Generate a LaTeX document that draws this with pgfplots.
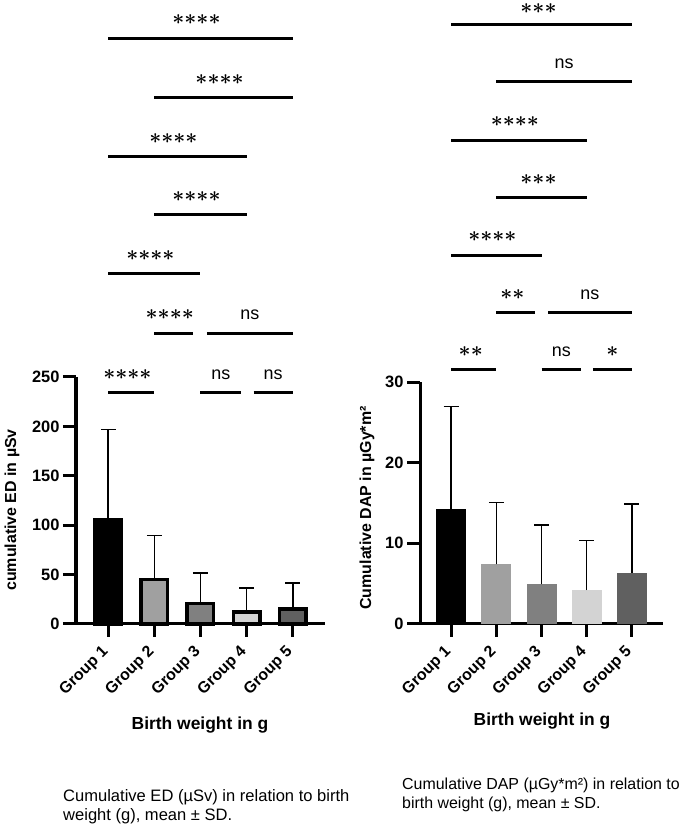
\RequirePackage{fix-cm}
\documentclass[border=0pt]{standalone}
\usepackage{fontspec}
\setmainfont{Liberation Sans}
\usepackage{pgfplots}
\pgfplotsset{compat=1.18}
\definecolor{gA}{HTML}{A0A0A0}
\definecolor{gB}{HTML}{808080}
\definecolor{gC}{HTML}{D3D3D3}
\definecolor{gD}{HTML}{606060}
\newcommand{\stars}[1]{{\fontsize{21}{21}\selectfont\boldmath$\foreach\i in {1,...,#1}{\mathord{\ast}}$}}
\newcommand{\nsl}{{\fontsize{18}{18}\selectfont ns}}
\tikzset{st/.style={inner sep=0pt}}
\pgfplotsset{
  gp/.style={
    scale only axis, clip=false, enlargelimits=false,
    axis x line*=bottom, axis y line*=left,
    axis line style={line width=3bp,-},
    tick style={line width=3bp,black},
    tick align=outside, major tick length=13bp,
    xtick={1,2,3,4,5},
    xticklabels={Group 1,Group 2,Group 3,Group 4,Group 5},
    xticklabel style={rotate=45,anchor=east,font=\bfseries\fontsize{16}{16}\selectfont},
    xticklabel shift=10bp,
    yticklabel style={font=\bfseries\fontsize{16.5}{16.5}\selectfont},
    /pgf/number format/assume math mode=true,
    ymin=0,
  },
  sig/.style={line width=3bp,black},
  errs/.style={
    error bars/y dir=plus, error bars/y explicit,
    error bars/error bar style={line width=1.6bp,black},
    error bars/error mark options={rotate=90,line width=1.6bp,black,mark size=7.5bp}},
  barL/.style={ybar,bar width=26.5bp,bar shift=0pt,draw=black,line width=3.5bp,errs},
  barR/.style={ybar,bar width=30bp,bar shift=0pt,draw=none,errs},
}
\begin{document}
\begin{tikzpicture}
\useasboundingbox (0bp,0bp) rectangle (685bp,827bp);
% ---------------- left panel ----------------
\begin{axis}[gp, at={(76bp,203bp)}, anchor=south west, width=249bp, height=247bp,
  xmin=0.3, xmax=5.7, ymax=250, ytick={0,50,100,150,200,250}]
\addplot[barL, fill=black] coordinates {(1,106) +- (0,91)};
\addplot[barL, fill=gA] coordinates {(2,45) +- (0,44.4)};
\addplot[barL, fill=gB] coordinates {(3,20.5) +- (0,31.4)};
\addplot[barL, fill=gC] coordinates {(4,12) +- (0,24.7)};
\addplot[barL, fill=gD] coordinates {(5,15) +- (0,26.8)};
% significance
\addplot[sig] coordinates {(1,234.1) (2,234.1)};
\addplot[sig] coordinates {(3,234.1) (3.88,234.1)};
\addplot[sig] coordinates {(4.15,234.1) (5,234.1)};
\addplot[sig] coordinates {(2,294.5) (2.84,294.5)};
\addplot[sig] coordinates {(3.14,294.5) (5,294.5)};
\addplot[sig] coordinates {(1,354.3) (3,354.3)};
\addplot[sig] coordinates {(2,414.0) (4,414.0)};
\addplot[sig] coordinates {(1,472.7) (4,472.7)};
\addplot[sig] coordinates {(2,532.4) (5,532.4)};
\addplot[sig] coordinates {(1,593.1) (5,593.1)};
\node[st,xshift=-4bp] at (axis cs:1.5,252.3) {\stars{4}};
\node at (axis cs:3.44,252.3) {\nsl};
\node at (axis cs:4.575,252.3) {\nsl};
\node[st,xshift=-4bp] at (axis cs:2.42,312.7) {\stars{4}};
\node at (axis cs:4.07,312.7) {\nsl};
\node[st,xshift=-4bp] at (axis cs:2,372.5) {\stars{4}};
\node[st,xshift=-4bp] at (axis cs:3,432.2) {\stars{4}};
\node[st,xshift=-4bp] at (axis cs:2.5,490.9) {\stars{4}};
\node[st,xshift=-4bp] at (axis cs:3.5,550.6) {\stars{4}};
\node[st,xshift=-4bp] at (axis cs:3,611.3) {\stars{4}};
\end{axis}
% ---------------- right panel ----------------
\begin{axis}[gp, at={(420bp,203bp)}, anchor=south west, width=243bp, height=242bp,
  xmin=0.31, xmax=5.69, ymax=30, ytick={0,10,20,30}]
\addplot[barR, fill=black] coordinates {(1,14.26) +- (0,12.68)};
\addplot[barR, fill=gA] coordinates {(2,7.4) +- (0,7.64)};
\addplot[barR, fill=gB] coordinates {(3,4.92) +- (0,7.35)};
\addplot[barR, fill=gC] coordinates {(4,4.21) +- (0,6.12)};
\addplot[barR, fill=gD] coordinates {(5,6.36) +- (0,8.52)};
% significance
\addplot[sig] coordinates {(1,31.49) (2,31.49)};
\addplot[sig] coordinates {(3,31.49) (3.88,31.49)};
\addplot[sig] coordinates {(4.14,31.49) (5,31.49)};
\addplot[sig] coordinates {(2,38.59) (2.85,38.59)};
\addplot[sig] coordinates {(3.15,38.59) (5,38.59)};
\addplot[sig] coordinates {(1,45.74) (3,45.74)};
\addplot[sig] coordinates {(2,52.85) (4,52.85)};
\addplot[sig] coordinates {(1,60.0) (4,60.0)};
\addplot[sig] coordinates {(2,67.2) (5,67.2)};
\addplot[sig] coordinates {(1,74.34) (5,74.34)};
\node[st,xshift=-3bp] at (axis cs:1.5,33.72) {\stars{2}};
\node at (axis cs:3.44,33.72) {\nsl};
\node[st] at (axis cs:4.57,33.72) {\stars{1}};
\node[st,xshift=-3bp] at (axis cs:2.42,40.82) {\stars{2}};
\node at (axis cs:4.07,40.82) {\nsl};
\node[st,xshift=-4bp] at (axis cs:2,47.97) {\stars{4}};
\node[st,xshift=-3bp] at (axis cs:3,55.08) {\stars{3}};
\node[st,xshift=-4bp] at (axis cs:2.5,62.23) {\stars{4}};
\node at (axis cs:3.5,69.43) {\nsl};
\node[st,xshift=-3bp] at (axis cs:3,76.3) {\stars{3}};
\end{axis}
% ---------------- labels ----------------
\node[rotate=90,font=\bfseries\fontsize{16}{16}\selectfont] at (12bp,317bp) {cumulative ED in µSv};
\node[rotate=90,font=\bfseries\fontsize{16}{16}\selectfont] at (367bp,319bp) {Cumulative DAP in µGy*m²};
\node[font=\bfseries\fontsize{17.5}{17.5}\selectfont] at (200bp,102bp) {Birth weight in g};
\node[font=\bfseries\fontsize{17.5}{17.5}\selectfont] at (542bp,105.5bp) {Birth weight in g};
\node[anchor=base west,inner sep=0pt,font=\fontsize{16.6}{16.6}\selectfont] at (63bp,26bp) {Cumulative ED (µSv) in relation to birth};
\node[anchor=base west,inner sep=0pt,font=\fontsize{16.6}{16.6}\selectfont] at (63bp,6.3bp) {weight (g), mean ± SD.};
\node[anchor=base west,inner sep=0pt,font=\fontsize{16}{16}\selectfont] at (402bp,37.7bp) {Cumulative DAP (µGy*m²) in relation to};
\node[anchor=base west,inner sep=0pt,font=\fontsize{16}{16}\selectfont] at (402bp,18.3bp) {birth weight (g), mean ± SD.};
\end{tikzpicture}
\end{document}
